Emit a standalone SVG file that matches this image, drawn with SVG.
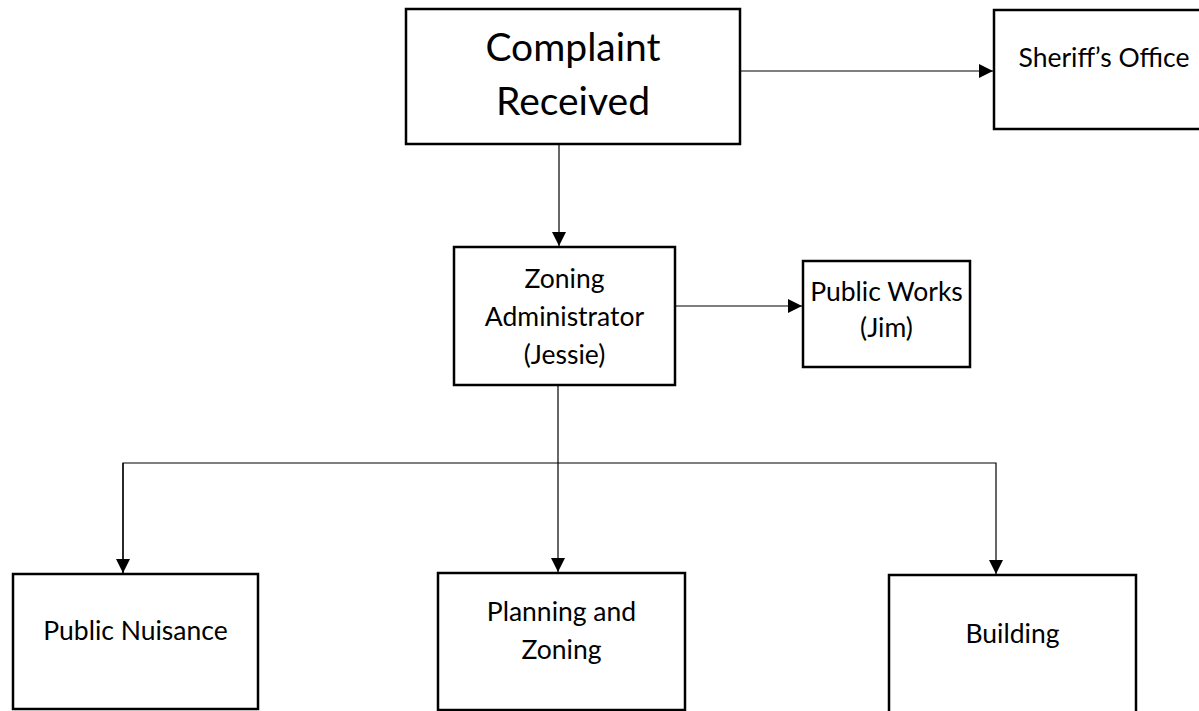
<svg xmlns="http://www.w3.org/2000/svg" width="1199" height="711" viewBox="0 0 1199 711">
<style>
.box{fill:#fff;stroke:#000;stroke-width:2.5}
.t{font-family:Lato,"Open Sans","Liberation Sans",sans-serif;fill:#000;text-anchor:middle}
.s{font-size:26.5px}
.l{font-size:39px}
.c{fill:none;stroke:#000;stroke-width:1.2}
</style>
<defs>
<marker id="ah" markerWidth="15" markerHeight="15" refX="14" refY="7" orient="auto" markerUnits="userSpaceOnUse">
<path d="M0,0 L14,7 L0,14 Z" fill="#000"/>
</marker>
</defs>
<rect width="1199" height="711" fill="#fff"/>
<g id="connectors">
<path class="c" d="M740,71 H993" marker-end="url(#ah)"/>
<path class="c" d="M559,144 V246" marker-end="url(#ah)"/>
<path class="c" d="M675,306 H802" marker-end="url(#ah)"/>
<path class="c" d="M558,385 V572" marker-end="url(#ah)"/>
<path class="c" d="M123,574 V463 H996 V574" marker-end="url(#ah)"/>
<path class="c" d="M123,463 V573" marker-end="url(#ah)"/>
</g>
<g id="complaint">
<rect class="box" x="406" y="9" width="334" height="135"/>
<text class="t l" x="573" y="61">Complaint</text>
<text class="t l" x="573" y="115">Received</text>
</g>
<g id="sheriff">
<rect class="box" x="994" y="10" width="222" height="119"/>
<text class="t s" x="1104" y="67">Sheriff’s Office</text>
</g>
<g id="zoning">
<rect class="box" x="454" y="247" width="221" height="138"/>
<text class="t s" x="564.5" y="288">Zoning</text>
<text class="t s" x="564.5" y="326">Administrator</text>
<text class="t s" x="564.5" y="364">(Jessie)</text>
</g>
<g id="publicworks">
<rect class="box" x="803" y="261" width="167" height="106"/>
<text class="t s" x="886.5" y="301">Public Works</text>
<text class="t s" x="886.5" y="337">(Jim)</text>
</g>
<g id="nuisance">
<rect class="box" x="13" y="574" width="245" height="135"/>
<text class="t s" x="135.5" y="640">Public Nuisance</text>
</g>
<g id="planning">
<rect class="box" x="438" y="573" width="247" height="137"/>
<text class="t s" x="561.5" y="621">Planning and</text>
<text class="t s" x="561.5" y="659">Zoning</text>
</g>
<g id="building">
<rect class="box" x="889" y="575" width="247" height="150"/>
<text class="t s" x="1012.5" y="643">Building</text>
</g>
</svg>
